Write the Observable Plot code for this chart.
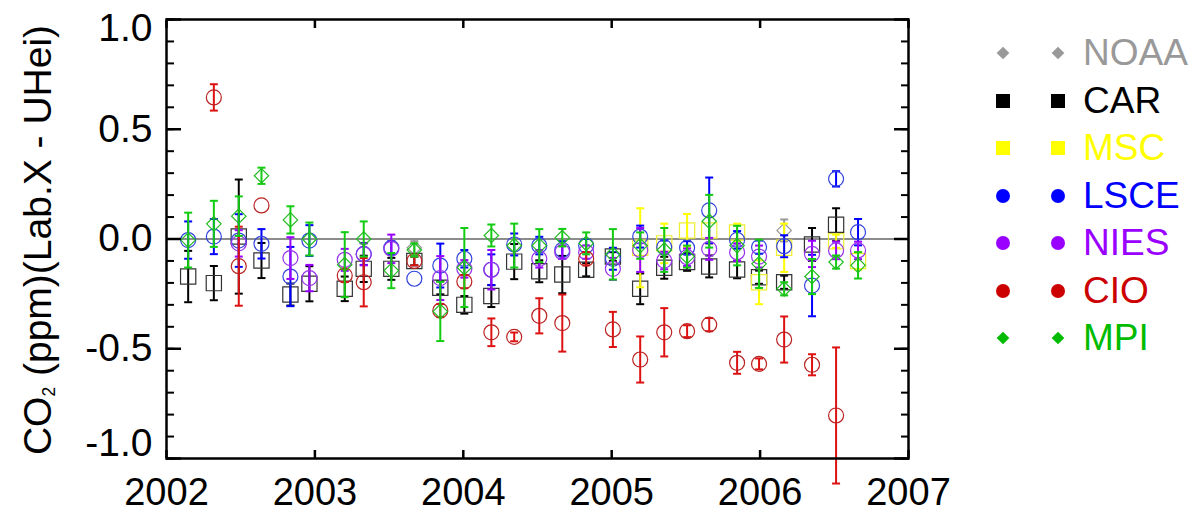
<!DOCTYPE html>
<html><head><meta charset="utf-8">
<script src="https://cdn.jsdelivr.net/npm/d3@7"></script>
<script src="https://cdn.jsdelivr.net/npm/@observablehq/plot@0.6"></script>
<style>
html,body{margin:0;padding:0;background:#fff;}
body{font-family:"Liberation Sans",Arial,Helvetica,sans-serif;}
#wrap{position:relative;width:1200px;height:514px;overflow:hidden;}
#chart{position:absolute;left:0;top:0;}
#ylab{position:absolute;left:38px;top:240px;transform:translate(-50%,-50%) rotate(-90deg);font-size:39px;white-space:nowrap;color:#000;}
#ylab sub{font-size:0.45em;vertical-align:-0.25em;}
.row{position:absolute;left:990px;height:40px;width:260px;}
.sym{position:absolute;top:50%;transform:translate(-50%,-50%);}
.lab{position:absolute;left:93px;top:50%;transform:translateY(-50%);font-size:37px;line-height:40px;white-space:nowrap;}
</style>
</head><body>
<div id="wrap">
  <div id="chart"></div>
  <div id="ylab">CO<sub>2</sub> (ppm)(Lab.X - UHei)</div>
  <div id="legend"></div>
</div>
<script>
// ---------------- data ----------------
const labs = ["NOAA", "CAR", "MSC", "LSCE", "NIES", "CIO", "MPI"];

const noaaT = [2003.670, 2006.162];
const noaaV = [-0.04, 0.039];
const noaaE = [0.03, 0.05];

const carT = [2002.146, 2002.319, 2002.487, 2002.640, 2002.835, 2002.963, 2003.201, 2003.329, 2003.515, 2003.670, 2003.845, 2004.007, 2004.189, 2004.343, 2004.512, 2004.667, 2004.828, 2005.008, 2005.192, 2005.354, 2005.508, 2005.657, 2005.845, 2005.993, 2006.162, 2006.350, 2006.512];
const carV = [-0.171, -0.201, 0.011, -0.098, -0.253, -0.204, -0.227, -0.136, -0.136, -0.10, -0.222, -0.30, -0.26, -0.103, -0.147, -0.162, -0.14, -0.08, -0.227, -0.131, -0.105, -0.125, -0.139, -0.174, -0.197, -0.025, 0.065];
const carE = [0.117, 0.078, 0.26, 0.08, 0.05, 0.08, 0.056, 0.06, 0.05, 0.02, 0.03, 0.04, 0.05, 0.08, 0.05, 0.085, 0.03, 0.02, 0.07, 0.05, 0.04, 0.05, 0.04, 0.03, 0.03, 0.075, 0.075];

const mscT = [2005.192, 2005.354, 2005.508, 2005.657, 2005.845, 2005.993, 2006.162, 2006.512, 2006.660];
const mscV = [-0.04, -0.02, 0.039, 0.039, 0.03, -0.197, -0.04, -0.01, -0.1];
const mscE = [0.18, 0.09, 0.075, 0.06, 0.04, 0.1, 0.11, 0.03, 0.04];

const lsceT = [2002.146, 2002.319, 2002.487, 2002.640, 2002.835, 2002.963, 2003.329, 2003.515, 2003.670, 2003.845, 2004.007, 2004.189, 2004.343, 2004.512, 2004.667, 2004.828, 2005.008, 2005.192, 2005.354, 2005.508, 2005.657, 2005.845, 2005.993, 2006.162, 2006.350, 2006.512, 2006.660];
const lsceV = [-0.005, 0.011, -0.007, -0.022, -0.171, -0.007, -0.068, -0.04, -0.181, -0.121, -0.09, -0.14, -0.025, -0.03, -0.05, -0.03, -0.09, 0.011, -0.037, -0.04, 0.13, -0.004, -0.037, -0.033, -0.212, 0.274, 0.031];
const lsceE = [0.085, 0.08, 0.12, 0.067, 0.135, 0.07, 0.05, 0.03, 0, 0.1, 0.04, 0.07, 0.05, 0.04, 0.04, 0.03, 0.05, 0.05, 0.03, 0.03, 0.15, 0.04, 0.03, 0.05, 0.14, 0.035, 0.06];

const niesT = [2002.487, 2002.835, 2002.963, 2003.201, 2003.329, 2003.515, 2003.845, 2004.007, 2004.189, 2004.512, 2004.667, 2004.828, 2005.008, 2005.192, 2005.354, 2005.508, 2005.657, 2005.845, 2005.993, 2006.350, 2006.512, 2006.660];
const niesV = [-0.02, -0.087, -0.178, -0.095, -0.07, -0.045, -0.178, -0.136, -0.14, -0.09, -0.06, -0.06, -0.136, -0.05, -0.098, -0.083, -0.045, -0.06, -0.08, -0.068, -0.052, -0.052];
const niesE = [0.06, 0.095, 0.06, 0.05, 0.05, 0.065, 0.1, 0.04, 0.09, 0.04, 0.03, 0.03, 0.05, 0.1, 0.04, 0.04, 0.05, 0.04, 0.05, 0.06, 0.04, 0.04];

const cioT = [2002.319, 2002.487, 2002.640, 2003.201, 2003.329, 2003.670, 2003.845, 2004.007, 2004.189, 2004.343, 2004.512, 2004.667, 2004.828, 2005.008, 2005.192, 2005.354, 2005.508, 2005.657, 2005.845, 2005.993, 2006.162, 2006.350, 2006.512];
const cioV = [0.645, -0.124, 0.153, -0.166, -0.197, -0.10, -0.326, -0.194, -0.425, -0.446, -0.35, -0.383, -0.09, -0.412, -0.549, -0.425, -0.42, -0.39, -0.564, -0.569, -0.458, -0.573, -0.804];
const cioE = [0.06, 0.18, 0, 0.03, 0.11, 0.02, 0.03, 0.03, 0.063, 0.02, 0.08, 0.13, 0.03, 0.08, 0.105, 0.11, 0.027, 0.03, 0.05, 0.025, 0.105, 0.048, 0.31];

const mpiT = [2002.146, 2002.319, 2002.487, 2002.640, 2002.835, 2002.963, 2003.201, 2003.329, 2003.515, 2003.670, 2003.845, 2004.007, 2004.189, 2004.343, 2004.512, 2004.667, 2004.828, 2005.008, 2005.192, 2005.354, 2005.508, 2005.657, 2005.845, 2005.993, 2006.162, 2006.350, 2006.512, 2006.660];
const mpiV = [-0.005, 0.069, 0.104, 0.288, 0.087, 0.0, -0.117, 0.0, -0.144, -0.05, -0.33, -0.13, 0.016, -0.03, -0.03, 0.006, -0.02, -0.07, -0.03, -0.05, -0.08, 0.081, -0.03, -0.113, -0.227, -0.171, -0.105, -0.12];
const mpiE = [0.125, 0.105, 0.09, 0.037, 0.062, 0.075, 0.148, 0.08, 0.08, 0.03, 0.135, 0.18, 0.05, 0.1, 0.075, 0.04, 0.05, 0.115, 0.06, 0.1, 0.05, 0.12, 0.09, 0.11, 0.03, 0.08, 0.03, 0.06];

const yMajor = [-0.5, 0, 0.5];
const yMinor = [-1, -0.9, -0.8, -0.7, -0.6, -0.5, -0.4, -0.3, -0.2, -0.1, 0, 0.1, 0.2, 0.3, 0.4, 0.5, 0.6, 0.7, 0.8, 0.9, 1];
const yTickLabels = [-1, -0.5, 0, 0.5, 1];
const xTicks = [2002, 2003, 2004, 2005, 2006, 2007];

// ---------------- styles per lab ----------------
const series = {
  NOAA: {t: noaaT, v: noaaV, e: noaaE, symbol: "diamond2", r: 6.5, sym: "#999999", bar: "#999999", legend: "#999999", leg: "diamond"},
  CAR:  {t: carT, v: carV, e: carE, symbol: "square", r: 8.6, sym: "#333333", bar: "#000000", legend: "#000000", leg: "square"},
  MSC:  {t: mscT, v: mscV, e: mscE, symbol: "square", r: 8.6, sym: "#eeee33", bar: "#ffff00", legend: "#ffff00", leg: "square"},
  LSCE: {t: lsceT, v: lsceV, e: lsceE, symbol: "circle", r: 7.5, sym: "#3344dd", bar: "#0000ff", legend: "#0000ff", leg: "circle"},
  NIES: {t: niesT, v: niesV, e: niesE, symbol: "circle", r: 7.5, sym: "#9933ee", bar: "#9900ff", legend: "#9900ff", leg: "circle"},
  CIO:  {t: cioT, v: cioV, e: cioE, symbol: "circle", r: 7.5, sym: "#bb2222", bar: "#dd1111", legend: "#cc0000", leg: "circle"},
  MPI:  {t: mpiT, v: mpiV, e: mpiE, symbol: "diamond2", r: 6.5, sym: "#22bb22", bar: "#11cc11", legend: "#00bb00", leg: "diamond"}
};

const capSymbol = {draw(ctx, size) { const w = Math.sqrt(size / Math.PI); ctx.moveTo(-w, 0); ctx.lineTo(w, 0); }};
const fmtY = d => d.toFixed(1); // plain hyphen-minus as in the original

const marks = [Plot.ruleY([0], {stroke: "#666", strokeWidth: 1.5})];
for (const lab of labs) {
  const s = series[lab];
  const rows = s.t.map((t, i) => ({lab, t, v: s.v[i], lo: s.v[i] - s.e[i], hi: s.v[i] + s.e[i], e: s.e[i]}));
  const withBars = rows.filter(d => d.e > 0);
  marks.push(
    Plot.ruleX(withBars, {x: "t", y1: "lo", y2: "hi", stroke: s.bar, strokeWidth: 2}),
    Plot.dot(withBars, {x: "t", y: "lo", symbol: capSymbol, r: 4, fill: "none", stroke: s.bar, strokeWidth: 2}),
    Plot.dot(withBars, {x: "t", y: "hi", symbol: capSymbol, r: 4, fill: "none", stroke: s.bar, strokeWidth: 2}),
    Plot.dot(rows, {x: "t", y: "v", symbol: s.symbol, r: s.r, fill: "none", stroke: s.sym, strokeWidth: 1.2})
  );
}

marks.push(
  Plot.frame({stroke: "#000", strokeWidth: 2.5}),
  Plot.axisY(yMinor, {anchor: "left", tickSize: -8, fill: "none", strokeWidth: 2, label: null}),
  Plot.axisY(yMinor, {anchor: "right", tickSize: -8, fill: "none", strokeWidth: 2, label: null}),
  Plot.axisY(yTickLabels, {anchor: "left", tickSize: -15, fill: "none", strokeWidth: 2.5, label: null}),
  Plot.axisY(yTickLabels, {anchor: "right", tickSize: -15, fill: "none", strokeWidth: 2.5, label: null}),
  Plot.axisY(yMajor, {anchor: "left", tickSize: 0, tickPadding: 14, tickFormat: fmtY, label: null, fontSize: 39}),
  Plot.axisY([1], {anchor: "left", tickSize: 0, tickPadding: 14, tickFormat: fmtY, label: null, fontSize: 39, dy: 9}),
  Plot.axisY([-1], {anchor: "left", tickSize: 0, tickPadding: 14, tickFormat: fmtY, label: null, fontSize: 39, dy: -15}),
  Plot.axisX(xTicks, {anchor: "bottom", tickSize: -8, fill: "none", strokeWidth: 2.5, label: null}),
  Plot.axisX(xTicks, {anchor: "top", tickSize: -8, fill: "none", strokeWidth: 2.5, label: null}),
  Plot.axisX(xTicks, {anchor: "bottom", tickSize: 0, tickPadding: 20, tickFormat: d3.format("d"), label: null, fontSize: 38})
);

const chart = Plot.plot({
  width: 1200,
  height: 514,
  marginLeft: 166,
  marginRight: 292,
  marginTop: 19,
  marginBottom: 56,
  x: {domain: [2002, 2007], label: null},
  y: {domain: [-1, 1], label: null},
  style: {fontFamily: "'Liberation Sans', Arial, Helvetica, sans-serif", color: "#000", background: "transparent", overflow: "visible"},
  marks
});
document.getElementById("chart").appendChild(chart);

// ---------------- legend ----------------
const legend = document.getElementById("legend");
labs.forEach((lab, i) => {
  const s = series[lab];
  const row = document.createElement("div");
  row.className = "row";
  row.style.top = (53 + i * 47.5 - 20) + "px";
  const mk = (cx) => {
    const el = document.createElement("div");
    el.className = "sym";
    el.style.left = cx + "px";
    el.style.background = s.legend;
    if (s.leg === "circle") { el.style.width = "14px"; el.style.height = "14px"; el.style.borderRadius = "50%"; }
    else if (s.leg === "square") { el.style.width = "14px"; el.style.height = "14px"; }
    else { el.style.width = "9px"; el.style.height = "9px"; el.style.transform = "translate(-50%,-50%) rotate(45deg)"; }
    return el;
  };
  row.appendChild(mk(13));
  row.appendChild(mk(68));
  const t = document.createElement("div");
  t.className = "lab";
  t.style.color = s.legend;
  t.textContent = lab;
  row.appendChild(t);
  legend.appendChild(row);
});
</script>
</body></html>
